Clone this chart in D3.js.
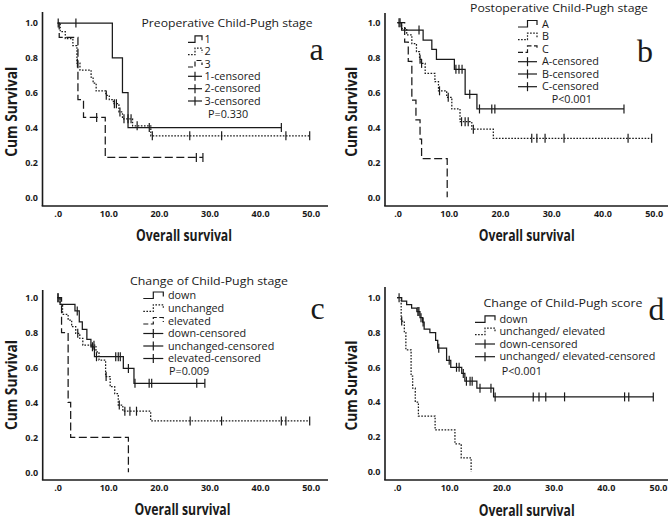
<!DOCTYPE html>
<html><head><meta charset="utf-8">
<script src="https://cdn.jsdelivr.net/npm/d3@7"></script>
<style>body{margin:0;background:#fff} svg{display:block}</style>
</head><body><svg id="chart" width="671" height="519"></svg>
<script>
// ---------------- DATA ----------------
const xTickValues = [0, 10, 20, 30, 40, 50];
const xTickLabels = [".0", "10.0", "20.0", "30.0", "40.0", "50.0"];
const yTickValues = [0, 0.2, 0.4, 0.6, 0.8, 1.0];
const yTickLabels = ["0.0", "0.2", "0.4", "0.6", "0.8", "1.0"];

// Panel a: Preoperative Child-Pugh stage  [time, survival]
const preStage1Steps = [[0,1],[10.8,0.8],[12.8,0.6],[13.9,0.4],[44.2,0.4]];
const preStage1Cens  = [[0.1,1],[3.6,1],[18.1,0.4],[44.2,0.4]];
const preStage2Steps = [[0,1],[0.5,0.95],[1.5,0.91],[3.0,0.87],[3.8,0.77],[4.4,0.73],[6.6,0.69],[7.0,0.655],[7.6,0.61],[9.5,0.585],[10.2,0.56],[11.0,0.537],[12.1,0.49],[12.8,0.45],[14.8,0.41],[18.4,0.353],[49.8,0.353]];
const preStage2Cens  = [[3.9,0.77],[9.6,0.585],[11.2,0.537],[11.6,0.537],[12.3,0.49],[13.1,0.45],[13.9,0.45],[14.5,0.45],[15.7,0.41],[18.7,0.353],[26.1,0.353],[32.4,0.353],[45.1,0.353],[49.8,0.353]];
const preStage3Steps = [[0,1],[0.3,0.917],[4.0,0.56],[5.1,0.458],[9.4,0.229],[28.7,0.229]];
const preStage3Cens  = [[7.7,0.458],[27.4,0.229],[28.7,0.229]];
const preLegendLabels = ["1", "2", "3", "1-censored", "2-censored", "3-censored"];
const preP = "P=0.330";

// Panel b: Postoperative Child-Pugh stage
const postASteps = [[0,1],[0.8,0.958],[5.0,0.9],[6.7,0.847],[7.6,0.79],[11.1,0.733],[13.2,0.59],[15.5,0.506],[44.2,0.506]];
const postACens  = [[0.5,1],[4.2,0.958],[11.4,0.733],[12.0,0.733],[12.6,0.733],[14.1,0.59],[16.0,0.506],[18.4,0.506],[19.0,0.506],[44.2,0.506]];
const postBSteps = [[0,1],[0.8,0.968],[1.8,0.93],[2.8,0.88],[3.7,0.834],[4.3,0.79],[4.6,0.767],[5.4,0.71],[7.3,0.662],[8.0,0.61],[9.6,0.573],[10.6,0.506],[12.2,0.433],[14.5,0.39],[18.7,0.338],[49.6,0.338]];
const postBCens  = [[0.3,1],[4.4,0.79],[4.7,0.767],[8.2,0.61],[9.9,0.573],[12.5,0.433],[13.2,0.433],[13.8,0.433],[14.8,0.39],[26.2,0.338],[27.2,0.338],[28.8,0.338],[32.5,0.338],[45.0,0.338],[49.6,0.338]];
const postCSteps = [[0,1],[1.4,0.889],[2.1,0.778],[2.8,0.556],[3.6,0.444],[4.4,0.333],[4.7,0.222],[9.7,0]];
const postCCens  = [];
const postLegendLabels = ["A", "B", "C", "A-censored", "B-censored", "C-censored"];
const postP = "P<0.001";

// Panel c: Change of Child-Pugh stage
const chgDownSteps = [[0,1],[0.5,0.962],[3.45,0.924],[4.3,0.862],[4.9,0.818],[5.8,0.762],[6.6,0.719],[7.3,0.662],[13.0,0.595],[15.1,0.51],[29.1,0.51]];
const chgDownCens  = [[0.1,1],[3.9,0.924],[6.9,0.719],[7.7,0.662],[11.5,0.662],[12.0,0.662],[12.4,0.662],[14.0,0.595],[15.3,0.51],[18.1,0.51],[18.6,0.51],[27.5,0.51],[29.1,0.51]];
const chgUnchSteps = [[0,1],[0.5,0.962],[1.0,0.905],[2.1,0.872],[2.8,0.834],[3.6,0.796],[4.4,0.767],[5.0,0.728],[7.6,0.69],[8.2,0.643],[9.5,0.548],[10.4,0.49],[11.3,0.45],[12.0,0.385],[12.9,0.35],[18.4,0.294],[49.8,0.294]];
const chgUnchCens  = [[0.1,1],[4.0,0.796],[7.2,0.728],[9.6,0.548],[12.2,0.385],[13.3,0.35],[14.3,0.35],[15.6,0.35],[26.2,0.294],[32.4,0.294],[44.2,0.294],[45.1,0.294],[49.8,0.294]];
const chgElevSteps = [[0,1],[0.8,0.8],[2.1,0.4],[2.6,0.2],[14.0,0]];
const chgElevCens  = [];
const chgLegendLabels = ["down", "unchanged", "elevated", "down-censored", "unchanged-censored", "elevated-censored"];
const chgP = "P=0.009";

// Panel d: Change of Child-Pugh score
const scoreDownSteps = [[0,1],[0.9,0.98],[1.85,0.96],[2.8,0.94],[3.8,0.92],[4.4,0.885],[4.9,0.86],[5.2,0.82],[6.3,0.80],[7.4,0.755],[7.8,0.71],[9.5,0.64],[10.3,0.6],[12.4,0.565],[13.0,0.52],[15.3,0.48],[18.5,0.43],[49.1,0.43]];
const scoreDownCens  = [[0.4,1],[4.0,0.92],[4.2,0.92],[4.6,0.885],[5.0,0.86],[8.0,0.71],[10.0,0.64],[11.4,0.6],[11.9,0.6],[12.7,0.565],[13.3,0.52],[14.0,0.52],[14.4,0.52],[15.9,0.48],[18.0,0.48],[18.8,0.43],[26.1,0.43],[27.2,0.43],[28.5,0.43],[32.1,0.43],[43.6,0.43],[44.4,0.43],[49.1,0.43]];
const scoreUESteps = [[0,1],[0.8,0.866],[1.4,0.80],[1.7,0.70],[2.7,0.55],[3.0,0.48],[3.5,0.40],[4.1,0.32],[7.3,0.24],[11.1,0.16],[12.3,0.08],[14.2,0]];
const scoreUECens  = [[0.9,0.866]];
const scoreLegendLabels = ["down", "unchanged/ elevated", "down-censored", "unchanged/ elevated-censored"];
const scoreP = "P<0.001";

// ---------------- LAYOUT ----------------
const FONT = "'Open Sans','Noto Sans',sans-serif";
const INK = "#1a1a1a";
const STYLES = { solid: null, dotted: "1.6,1.5", dashed: "8,3.5" };

const panels = [
  { ox: 42.5, axY: 206, xr: [57.7, 310.7], yr: [197.3, 23], top: 12, right: 328,
    series: [
      { steps: preStage1Steps, cens: preStage1Cens, style: "solid" },
      { steps: preStage2Steps, cens: preStage2Cens, style: "dotted" },
      { steps: preStage3Steps, cens: preStage3Cens, style: "dashed" }],
    letter: { t: "a", x: 316.5, y: 60 },
    ylab: { x: 16.5, y: 111.7 }, xlab: { x: 184, y: 241 },
    legend: { title: "Preoperative Child-Pugh stage", tx: 227, ty: 27, tw: 171,
      s0: 188, s1: 202, textX: 204.5, rows: [39.3, 51.7, 64, 76.3, 88.7, 101],
      labels: preLegendLabels, p: preP, px: 208, py: 114 } },
  { ox: 385, axY: 206, xr: [397.5, 653.7], yr: [197.3, 22.7], top: 13, right: 668,
    series: [
      { steps: postASteps, cens: postACens, style: "solid" },
      { steps: postBSteps, cens: postBCens, style: "dotted" },
      { steps: postCSteps, cens: postCCens, style: "dashed" }],
    letter: { t: "b", x: 645, y: 62 },
    ylab: { x: 356.5, y: 111.7 }, xlab: { x: 526.7, y: 241 },
    legend: { title: "Postoperative Child-Pugh stage", tx: 559, ty: 11.5, tw: 178,
      s0: 518, s1: 537, textX: 542, rows: [24, 36.7, 49.3, 61.7, 74, 86.7],
      labels: postLegendLabels, p: postP, px: 551.7, py: 99.3 } },
  { ox: 42.7, axY: 480, xr: [57.5, 310.7], yr: [472.3, 297.7], top: 290, right: 328,
    series: [
      { steps: chgDownSteps, cens: chgDownCens, style: "solid" },
      { steps: chgUnchSteps, cens: chgUnchCens, style: "dotted" },
      { steps: chgElevSteps, cens: chgElevCens, style: "dashed" }],
    letter: { t: "c", x: 317.5, y: 318.5 },
    ylab: { x: 16.5, y: 385 }, xlab: { x: 182.5, y: 515 },
    legend: { title: "Change of Child-Pugh stage", tx: 209, ty: 284.7, tw: 158,
      s0: 143.3, s1: 163.3, textX: 168, rows: [295.5, 308.3, 321, 333.5, 346, 358.5],
      labels: chgLegendLabels, p: chgP, px: 169, py: 371.5 } },
  { ox: 385, axY: 480, xr: [397, 658], yr: [471.7, 297.7], top: 287, right: 668,
    series: [
      { steps: scoreDownSteps, cens: scoreDownCens, style: "solid" },
      { steps: scoreUESteps, cens: scoreUECens, style: "dotted" }],
    letter: { t: "d", x: 656.5, y: 320 },
    ylab: { x: 356.5, y: 385.5 }, xlab: { x: 526.7, y: 515.5 },
    legend: { title: "Change of Child-Pugh score", tx: 563, ty: 306.7, tw: 159,
      s0: 475, s1: 495, textX: 499.5, rows: [319.3, 331.7, 344, 356.7],
      labels: scoreLegendLabels, p: scoreP, px: 501.7, py: 371.7 } }
];

// ---------------- DRAW ----------------
const svg = d3.select("#chart");
svg.append("rect").attr("width", 671).attr("height", 519).attr("fill", "#fff");

panels.forEach(P => {
  const g = svg.append("g");
  const x = d3.scaleLinear().domain([0, 50]).range(P.xr);
  const y = d3.scaleLinear().domain([0, 1]).range(P.yr);

  // axes lines
  g.append("line").attr("x1", P.ox).attr("x2", P.ox).attr("y1", P.top).attr("y2", P.axY)
    .attr("stroke", INK).attr("stroke-width", 1.6);
  g.append("line").attr("x1", P.ox - 0.8).attr("x2", P.right).attr("y1", P.axY).attr("y2", P.axY)
    .attr("stroke", INK).attr("stroke-width", 1.6);

  // tick labels via d3 axes
  const xa = g.append("g").attr("transform", `translate(0,${P.axY})`)
    .call(d3.axisBottom(x).tickValues(xTickValues).tickFormat((d, i) => xTickLabels[i]).tickSize(0).tickPadding(5));
  const ya = g.append("g").attr("transform", `translate(${P.ox},0)`)
    .call(d3.axisLeft(y).tickValues(yTickValues).tickFormat((d, i) => yTickLabels[i]).tickSize(0).tickPadding(4.5));
  [xa, ya].forEach(a => {
    a.select(".domain").remove();
    a.selectAll("text").attr("font-family", FONT).attr("font-size", 9).attr("font-weight", 700).attr("fill", INK);
  });

  // curves
  const line = d3.line().x(d => x(d[0])).y(d => y(d[1])).curve(d3.curveStepAfter);
  P.series.forEach(s => {
    g.append("path").attr("d", line(s.steps)).attr("fill", "none")
      .attr("stroke", INK).attr("stroke-width", 1.25)
      .attr("stroke-dasharray", STYLES[s.style]);
    g.selectAll(null).data(s.cens).enter().append("line")
      .attr("x1", d => x(d[0])).attr("x2", d => x(d[0]))
      .attr("y1", d => y(d[1]) - 4.5).attr("y2", d => y(d[1]) + 4.5)
      .attr("stroke", INK).attr("stroke-width", 1.2);
  });

  // axis titles
  g.append("text").attr("transform", `translate(${P.ylab.x},${P.ylab.y}) rotate(-90)`)
    .attr("text-anchor", "middle").attr("font-family", FONT).attr("font-weight", 700)
    .attr("font-size", 16).attr("fill", INK).attr("textLength", 90).attr("lengthAdjust", "spacingAndGlyphs")
    .text("Cum Survival");
  g.append("text").attr("x", P.xlab.x).attr("y", P.xlab.y)
    .attr("text-anchor", "middle").attr("font-family", FONT).attr("font-weight", 700)
    .attr("font-size", 16).attr("fill", INK).attr("textLength", 96).attr("lengthAdjust", "spacingAndGlyphs")
    .text("Overall survival");

  // panel letter
  g.append("text").attr("x", P.letter.x).attr("y", P.letter.y).attr("text-anchor", "middle")
    .attr("font-family", "'Liberation Serif','Times New Roman',serif").attr("font-size", 32)
    .attr("fill", INK).text(P.letter.t);

  // legend
  const L = P.legend;
  g.append("text").attr("x", L.tx).attr("y", L.ty).attr("text-anchor", "middle")
    .attr("font-family", FONT).attr("font-size", 11.5).attr("fill", INK)
    .attr("textLength", L.tw).attr("lengthAdjust", "spacingAndGlyphs").text(L.title);
  const nS = P.series.length;
  L.labels.forEach((lab, i) => {
    const cy = L.rows[i];
    if (i < nS) {
      const w = L.s1 - L.s0, m = L.s0 + w * 0.5;
      const d = `M${L.s0},${cy + 3}H${m}V${cy - 3.5}H${L.s1}V${cy + 1}`;
      g.append("path").attr("d", d).attr("fill", "none").attr("stroke", INK).attr("stroke-width", 1.2)
        .attr("stroke-dasharray", P.series[i].style === "dotted" ? "1.6,1.5" : (P.series[i].style === "dashed" ? "5,2.5" : null));
    } else {
      const m = (L.s0 + L.s1) / 2;
      g.append("line").attr("x1", L.s0).attr("x2", L.s1).attr("y1", cy).attr("y2", cy)
        .attr("stroke", INK).attr("stroke-width", 1.2);
      g.append("line").attr("x1", m).attr("x2", m).attr("y1", cy - 4.5).attr("y2", cy + 4.5)
        .attr("stroke", INK).attr("stroke-width", 1.2);
    }
    g.append("text").attr("x", L.textX).attr("y", cy).attr("dy", "0.35em")
      .attr("font-family", FONT).attr("font-size", 10.8).attr("fill", INK).text(lab);
  });
  g.append("text").attr("x", L.px).attr("y", L.py).attr("dy", "0.35em")
    .attr("font-family", FONT).attr("font-size", 10.8).attr("fill", INK).text(L.p);
});
</script>
</body></html>
